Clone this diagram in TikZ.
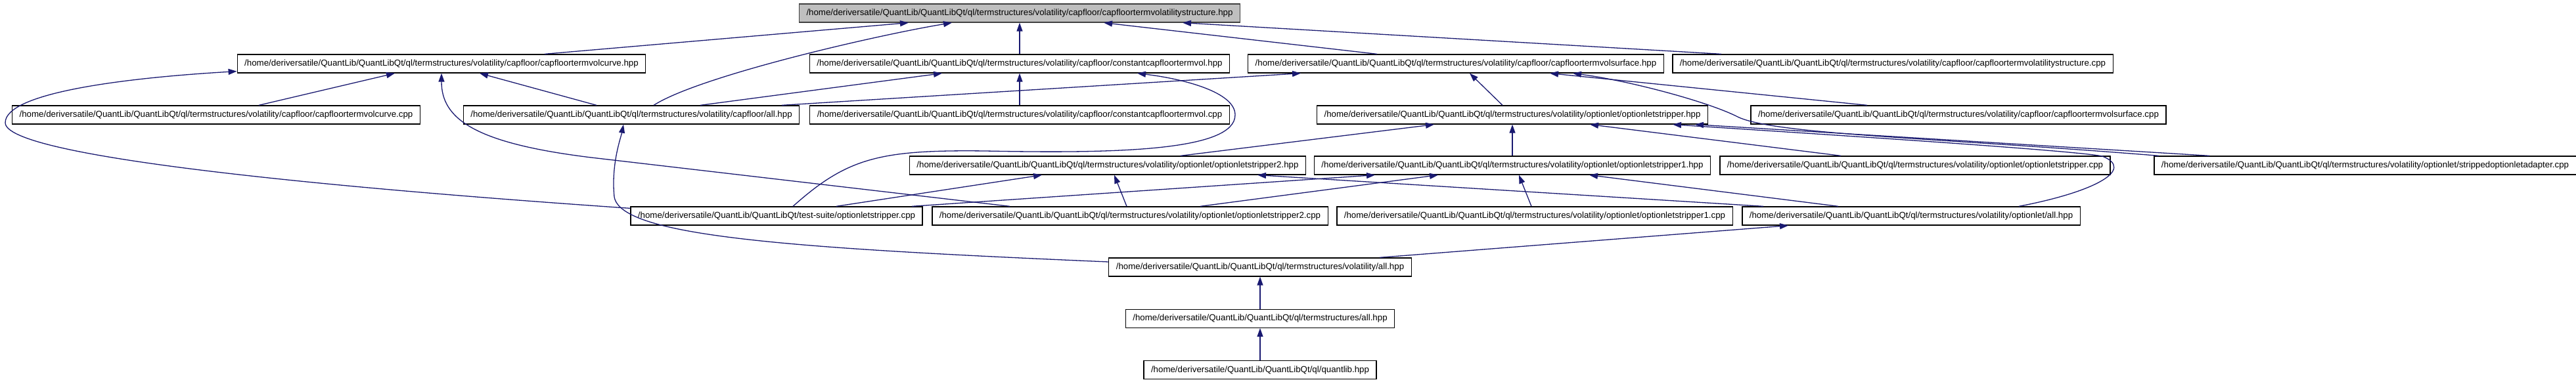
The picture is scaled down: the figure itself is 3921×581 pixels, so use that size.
\documentclass[tikz,border=0pt]{standalone}
\usepackage{fontspec}
\setmainfont{Liberation Sans}
\usepackage{tikz}
\usepackage{xcolor}
\usetikzlibrary{positioning,arrows.meta}
\definecolor{edgeblue}{HTML}{191970}
\definecolor{rootgray}{HTML}{BFBFBF}
\definecolor{rootline}{HTML}{404040}
\newcommand{\qlpath}{/home/deriversatile/QuantLib/QuantLibQt/ql}

\begin{document}
\begin{tikzpicture}[
x=1pt, y=1pt,
node distance=49pt,
every node/.style={font=\fontsize{13.3}{16}\selectfont},
file/.style={draw, line width=1.3pt, fill=white, minimum height=28pt, inner xsep=11pt, inner ysep=0pt},
edge/.style={draw=edgeblue, line width=1.3pt, -{Triangle[length=13pt,width=9pt]}}
]
\useasboundingbox (0,0) rectangle (3921,-581);
% row 0
\node[file, fill=rootgray, draw=rootline] (root) at (1552,-20) {\qlpath/termstructures/volatility/capfloor/capfloortermvolatilitystructure.hpp};
% row 1
\node[file] (volcurvehpp) at (672,-97) {\qlpath/termstructures/volatility/capfloor/capfloortermvolcurve.hpp};
\node[file] (constvolhpp) at (1552,-97) {\qlpath/termstructures/volatility/capfloor/constantcapfloortermvol.hpp};
\node[file] (volsurfhpp) at (2216,-97) {\qlpath/termstructures/volatility/capfloor/capfloortermvolsurface.hpp};
\node[file] (volstructcpp) at (2881,-97) {\qlpath/termstructures/volatility/capfloor/capfloortermvolatilitystructure.cpp};
% row 2
\node[file] (volcurvecpp) at (329,-175) {\qlpath/termstructures/volatility/capfloor/capfloortermvolcurve.cpp};
\node[file] (capfloorall) at (961,-175) {\qlpath/termstructures/volatility/capfloor/all.hpp};
\node[file] (constvolcpp) at (1552,-175) {\qlpath/termstructures/volatility/capfloor/constantcapfloortermvol.cpp};
\node[file] (ostripperhpp) at (2302,-175) {\qlpath/termstructures/volatility/optionlet/optionletstripper.hpp};
\node[file] (volsurfcpp) at (2981,-175) {\qlpath/termstructures/volatility/capfloor/capfloortermvolsurface.cpp};
% row 3
\node[file] (ostripper2hpp) at (1686,-252) {\qlpath/termstructures/volatility/optionlet/optionletstripper2.hpp};
\node[file] (ostripper1hpp) at (2302,-252) {\qlpath/termstructures/volatility/optionlet/optionletstripper1.hpp};
\node[file] (ostrippercpp) at (2915,-252) {\qlpath/termstructures/volatility/optionlet/optionletstripper.cpp};
\node[file] (adaptercpp) at (3600,-252) {\qlpath/termstructures/volatility/optionlet/strippedoptionletadapter.cpp};
% row 4
\node[file] (testsuite) at (1182,-329) {/home/deriversatile/QuantLib/QuantLibQt/test-suite/optionletstripper.cpp};
\node[file] (ostripper2cpp) at (1720,-329) {\qlpath/termstructures/volatility/optionlet/optionletstripper2.cpp};
\node[file] (ostripper1cpp) at (2336,-329) {\qlpath/termstructures/volatility/optionlet/optionletstripper1.cpp};
\node[file] (optionletall) at (2909,-329) {\qlpath/termstructures/volatility/optionlet/all.hpp};
% rows 5-7
\node[file] (volall) at (1918,-407) {\qlpath/termstructures/volatility/all.hpp};
\node[file, below=of volall] (tsall) {\qlpath/termstructures/all.hpp};
\node[file, below=of tsall] (quantlib) {\qlpath/quantlib.hpp};
% into root
\draw[edge] ([xshift=157pt]volcurvehpp.north) -- ([xshift=-169pt]root.south);
\draw[edge] ([xshift=34pt]capfloorall.north) .. controls +(70,45) and +(-110,-18) .. ([xshift=-103pt]root.south);
\draw[edge] (constvolhpp) -- (root);
\draw[edge] ([xshift=-120pt]volsurfhpp.north) -- ([xshift=128pt]root.south);
\draw[edge] ([xshift=-261pt]volstructcpp.north) -- ([xshift=248pt]root.south);
% into row 1
\draw[edge] ([xshift=65pt]volcurvecpp.north) -- ([xshift=-71pt]volcurvehpp.south);
\draw[edge] ([xshift=-53pt]capfloorall.north) -- ([xshift=58pt]volcurvehpp.south);
\draw[edge] ([xshift=105pt]capfloorall.north) -- ([xshift=-118pt]constvolhpp.south);
\draw[edge] ([xshift=229pt]capfloorall.north) -- ([xshift=-236pt]volsurfhpp.south);
\draw[edge] (constvolcpp) -- (constvolhpp);
\draw[edge] ([xshift=-15pt]ostripperhpp.north) -- ([xshift=21pt]volsurfhpp.south);
\draw[edge] ([xshift=-139pt]volsurfcpp.north) -- ([xshift=143pt]volsurfhpp.south);
\draw[edge] ([xshift=-314pt]adaptercpp.north) .. controls (2950,-210) and (2700,-205) .. (2645,-178) .. controls (2600,-155) and (2480,-123) .. ([xshift=178pt]volsurfhpp.south);
\draw[edge] ([yshift=-3pt]testsuite.north west) .. controls (664,-297) and (8,-247) .. (8,-187) .. controls (8,-140) and (200,-118) .. ([yshift=3pt]volcurvehpp.south west);
\draw[edge] ([xshift=-183pt]ostripper2cpp.north) -- (900,-240) .. controls (720,-218) and (672,-180) .. (volcurvehpp.south);
\draw[edge] ([xshift=25pt]testsuite.north) .. controls (1290,-240) and (1340,-228) .. (1500,-230) .. controls (1700,-234) and (1880,-230) .. (1880,-175) .. controls (1880,-140) and (1800,-120) .. ([xshift=179pt]constvolhpp.south);
% into row 2
\draw[edge] ([xshift=111pt]ostripper2hpp.north) -- ([xshift=-119pt]ostripperhpp.south);
\draw[edge] (ostripper1hpp) -- (ostripperhpp);
\draw[edge] ([xshift=-113pt]ostrippercpp.north) -- ([xshift=118pt]ostripperhpp.south);
\draw[edge] ([xshift=-237pt]adaptercpp.north) -- ([xshift=278pt]ostripperhpp.south);
\draw[edge] ([xshift=164pt]optionletall.north) .. controls (3190,-292) and (3250,-258) .. (3200,-238) .. controls (3150,-228) and (2700,-200) .. ([xshift=244pt]ostripperhpp.south);
\draw[edge] ([yshift=8pt]volall.west) .. controls (1200,-378) and (945,-360) .. (935,-300) .. controls (930,-250) and (945,-210) .. ([xshift=-12pt]capfloorall.south);
% into row 3
\draw[edge] ([xshift=91pt]testsuite.north) -- ([xshift=-100pt]ostripper2hpp.south);
\draw[edge] ([xshift=-5pt]ostripper2cpp.north) -- ([xshift=10pt]ostripper2hpp.south);
\draw[edge] ([xshift=-225pt]optionletall.north) -- ([xshift=228pt]ostripper2hpp.south);
\draw[edge] ([xshift=206pt]testsuite.north) -- ([xshift=-209pt]ostripper1hpp.south);
\draw[edge] ([xshift=107pt]ostripper2cpp.north) -- ([xshift=-113pt]ostripper1hpp.south);
\draw[edge] ([xshift=-5pt]ostripper1cpp.north) -- ([xshift=10pt]ostripper1hpp.south);
\draw[edge] ([xshift=-111pt]optionletall.north) -- ([xshift=117pt]ostripper1hpp.south);
% into row 4 and below
\draw[edge] ([xshift=182pt]volall.north) -- ([xshift=-187pt]optionletall.south);
\draw[edge] (tsall) -- (volall);
\draw[edge] (quantlib) -- (tsall);
\end{tikzpicture}
\end{document}
